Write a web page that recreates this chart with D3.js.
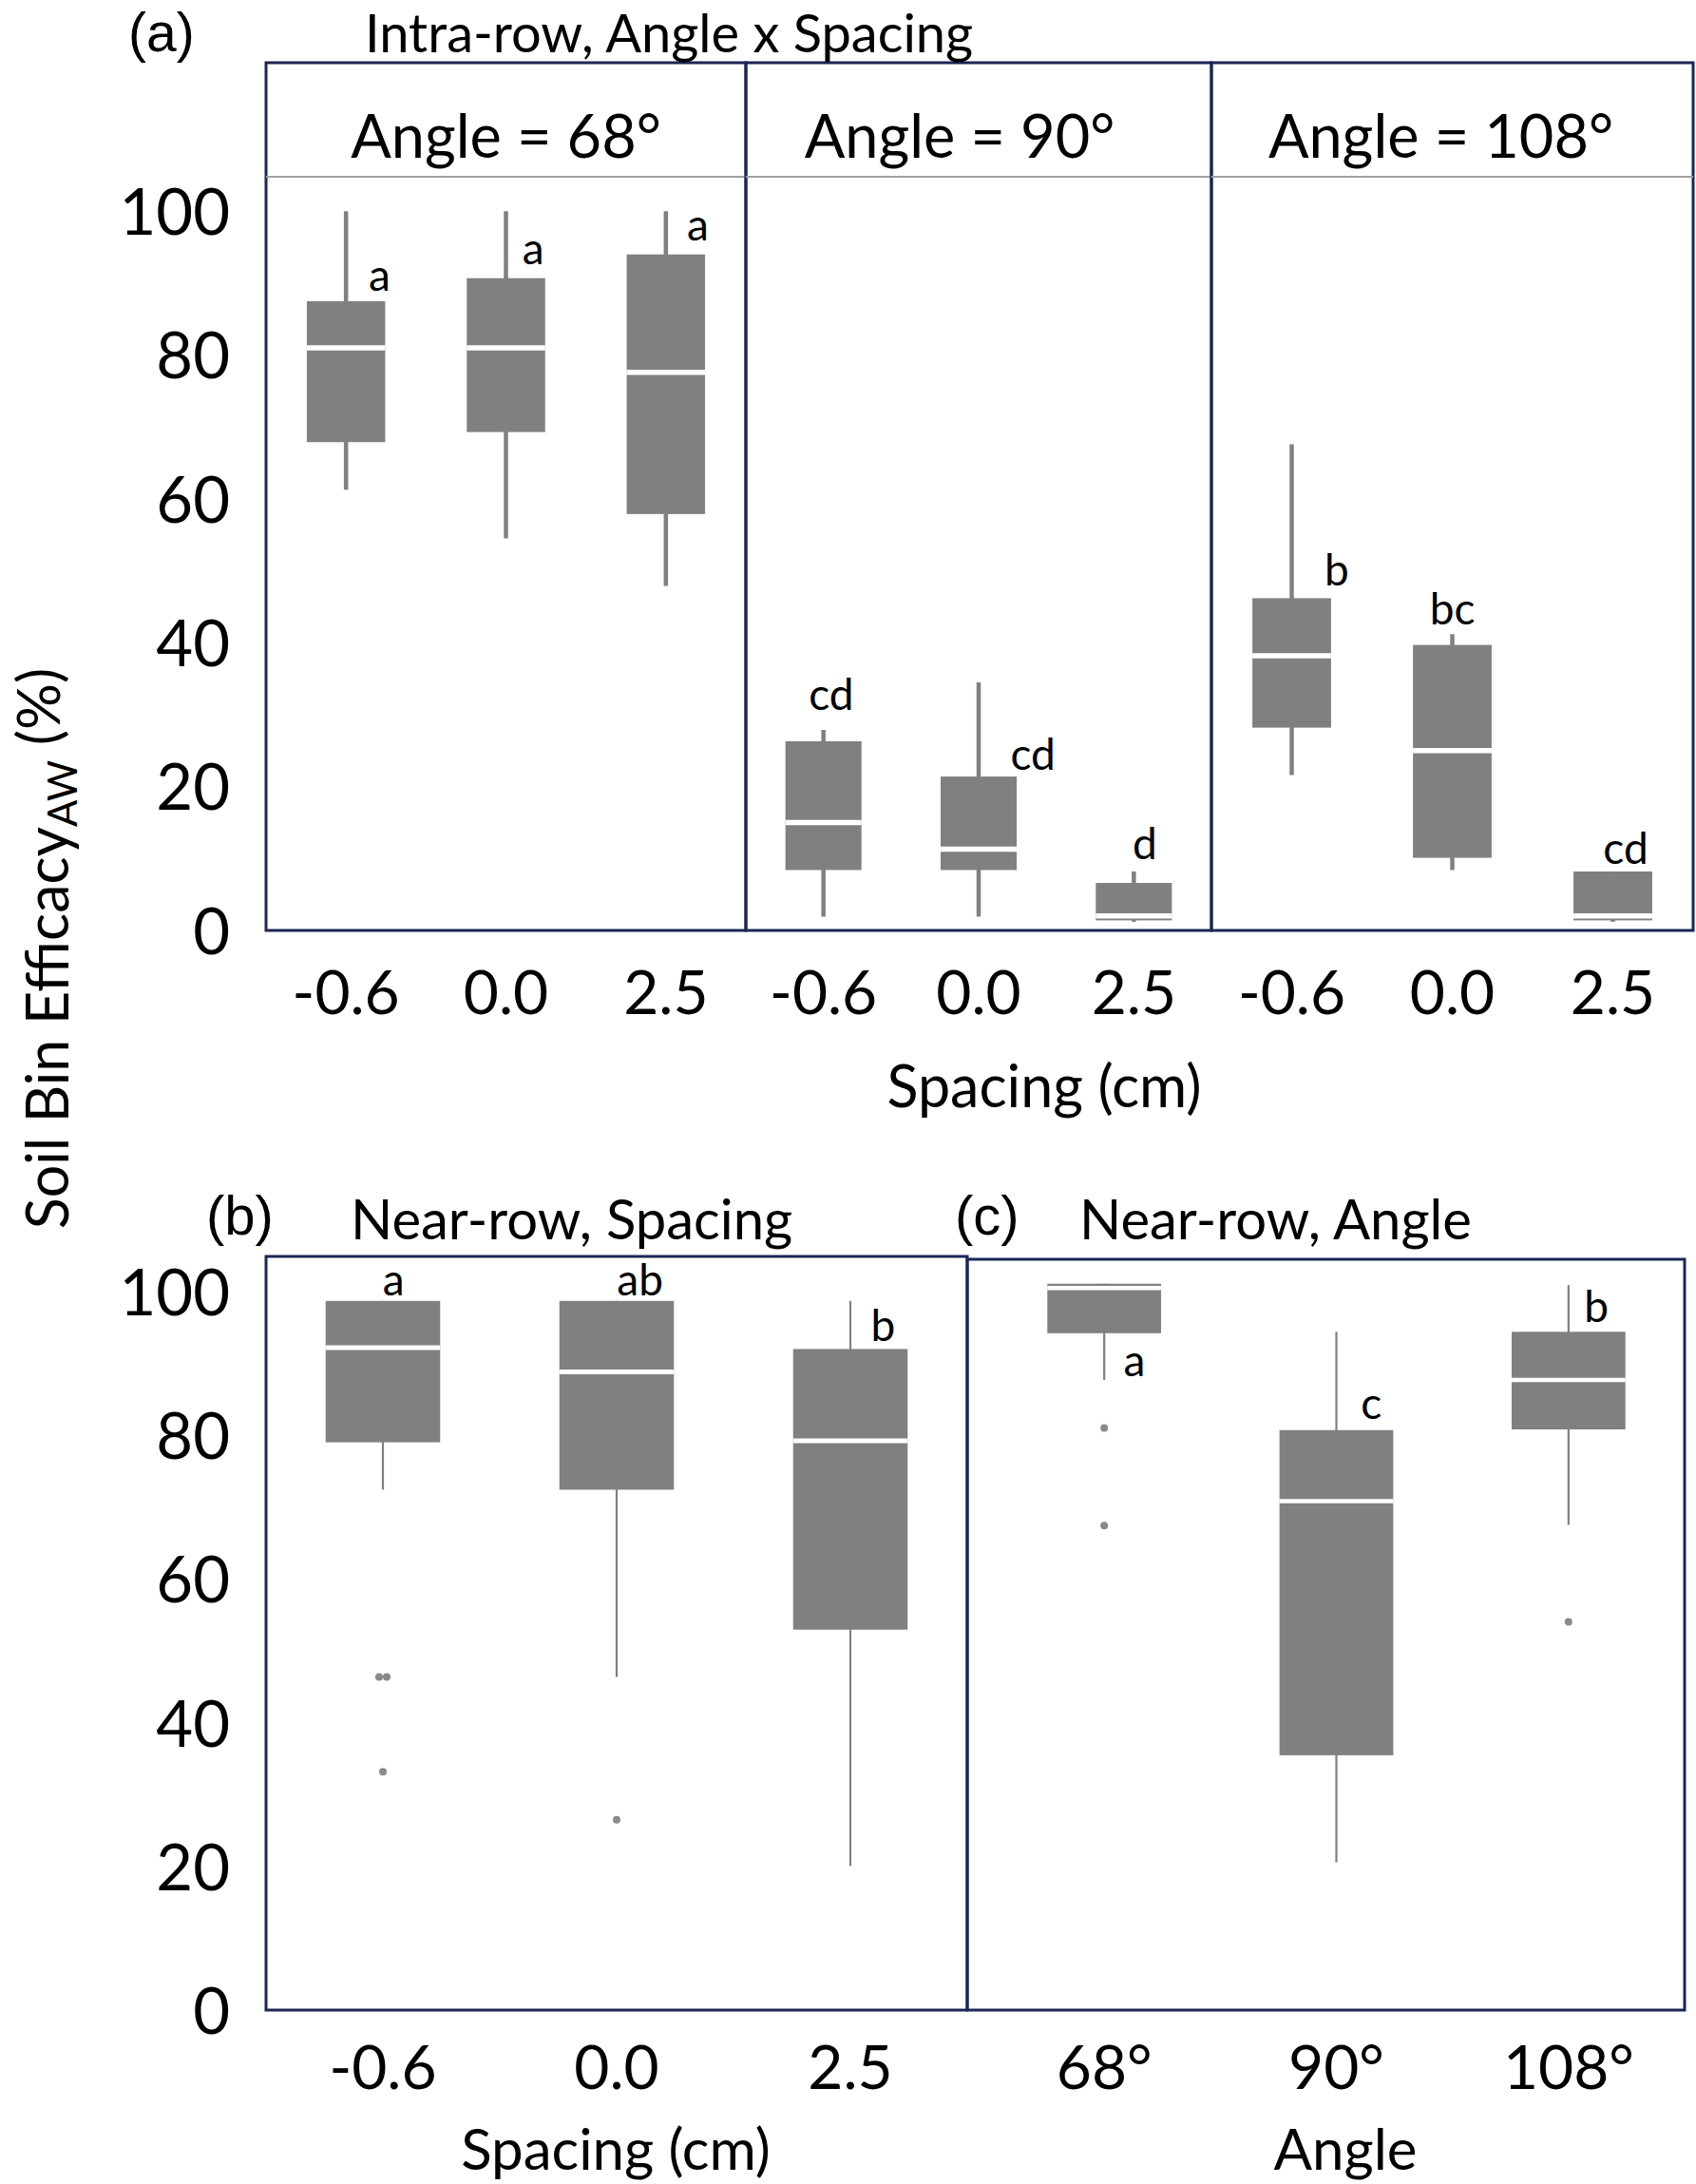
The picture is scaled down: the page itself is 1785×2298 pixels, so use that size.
<!DOCTYPE html>
<html lang="en">
<head>
    <meta charset="UTF-8">
    <title>Soil Bin Efficacy box plots</title>
    <script src="https://d3js.org/d3.v7.min.js"></script>
    <style>
        body { margin: 0; background: #fff; }
        svg { display: block; font-family: Lato, 'Open Sans', sans-serif; }
    </style>
</head>
<body>
<script>
    // Categories
    const spacingCats = ["-0.6", "0.0", "2.5"];
    const angleCats = ["68°", "90°", "108°"];
    const angleStrips = ["Angle = 68°", "Angle = 90°", "Angle = 108°"];
    const yTicks = [0, 20, 40, 60, 80, 100];

    // Box summaries [min, q1, median, q3, max] per spacing
    const intra68 = [[61.3, 67.9, 81.0, 87.5, 100], [54.5, 69.3, 81.0, 90.7, 100], [47.9, 57.9, 77.6, 94.0, 100]];
    const intra90 = [[1.9, 8.4, 15.0, 26.3, 27.9], [1.9, 8.4, 11.3, 21.4, 34.5], [1.2, 1.4, 2.0, 6.6, 8.2]];
    const intra108 = [[21.6, 28.2, 38.2, 46.2, 67.6], [8.4, 10.1, 25.0, 39.7, 41.2], [1.2, 1.4, 2.0, 8.2, 8.2]];
    const intraLetters = [["a", "a", "a"], ["cd", "cd", "d"], ["b", "bc", "cd"]];

    const nearSpacing = [[72.5, 79.1, 92.3, 98.8, 98.8], [46.4, 72.5, 88.9, 98.8, 98.8], [20.1, 53.0, 79.3, 92.1, 98.8]];
    const nearSpacingOut = [[46.4, 46.4, 33.2], [26.5], []];
    const nearSpacingLetters = ["a", "ab", "b"];

    const nearAngle = [[87.8, 94.3, 100.6, 101.2, 101.2], [20.6, 35.5, 70.9, 80.8, 94.5], [67.6, 80.9, 87.8, 94.5, 101.0]];
    const nearAngleOut = [[81.1, 67.5], [], [54.1]];
    const nearAngleLetters = ["a", "c", "b"];

    // where the letters sit: [value of baseline, shift as part of the band]
    const intraLetterPos = [
        [[88.9, 0.21], [92.7, 0.17], [96.0, 0.20]],
        [[30.6, 0.05], [22.3, 0.35], [9.9, 0.07]],
        [[48.0, 0.28], [42.5, 0.0], [9.3, 0.08]]
    ];
    const nearSpacingLetterPos = [[99.6, 0.045], [99.6, 0.10], [93.2, 0.14]];
    const nearAngleLetterPos = [[88.3, 0.13], [82.4, 0.15], [95.8, 0.12]];

    const W = 1785, H = 2298;
    const frameColor = "#1b2655";
    const boxColor = "#808080";
    const tickFont = 64;

    const svg = d3.select("body").append("svg")
        .attr("width", W)
        .attr("height", H);

    // draws one framed panel of boxes
    function drawPanel(opt) {
        const g = svg.append("g");
        const x = d3.scaleBand().domain(opt.cats).range([opt.x0 + (opt.padL || 0), opt.x1]);
        const y = d3.scaleLinear().domain([0, opt.yMax]).range([opt.yBottom, opt.yTop]);
        const bw = x.bandwidth() * 0.49;

        g.append("rect")
            .attr("x", opt.x0).attr("y", opt.frameTop)
            .attr("width", opt.x1 - opt.x0).attr("height", opt.yBottom - opt.frameTop)
            .attr("fill", "none")
            .attr("stroke", frameColor)
            .attr("stroke-width", 3);

        const box = g.selectAll("g.box")
            .data(opt.boxes)
            .enter().append("g")
            .attr("class", "box");

        // whiskers
        box.append("line")
            .attr("x1", (d, i) => x(opt.cats[i]) + x.bandwidth() / 2)
            .attr("x2", (d, i) => x(opt.cats[i]) + x.bandwidth() / 2)
            .attr("y1", d => y(d[4]))
            .attr("y2", d => y(d[0]))
            .attr("stroke", boxColor)
            .attr("stroke-width", opt.whisker);

        box.append("rect")
            .attr("x", (d, i) => x(opt.cats[i]) + x.bandwidth() / 2 - bw / 2)
            .attr("y", d => y(d[3]))
            .attr("width", bw)
            .attr("height", d => y(d[1]) - y(d[3]))
            .attr("fill", boxColor);

        // median
        box.append("line")
            .attr("x1", (d, i) => x(opt.cats[i]) + x.bandwidth() / 2 - bw / 2)
            .attr("x2", (d, i) => x(opt.cats[i]) + x.bandwidth() / 2 + bw / 2)
            .attr("y1", d => y(d[2]))
            .attr("y2", d => y(d[2]))
            .attr("stroke", "#fff")
            .attr("stroke-width", opt.median);

        // outliers
        if (opt.outliers) {
            opt.outliers.forEach((vals, i) => {
                vals.forEach((v, j) => {
                    const same = vals.filter(u => u === v).length;
                    const k = vals.slice(0, j).filter(u => u === v).length;
                    const dx = same > 1 ? (k - (same - 1) / 2) * 8 : 0;
                    g.append("circle")
                        .attr("cx", x(opt.cats[i]) + x.bandwidth() / 2 + dx)
                        .attr("cy", y(v))
                        .attr("r", 4)
                        .attr("fill", "#8a8a8a");
                });
            });
        }

        // letters
        g.selectAll("text.letter")
            .data(opt.letters)
            .enter().append("text")
            .attr("class", "letter")
            .attr("x", (d, i) => x(opt.cats[i]) + x.bandwidth() / 2 + opt.letterPos[i][1] * x.bandwidth())
            .attr("y", (d, i) => y(opt.letterPos[i][0]))
            .attr("text-anchor", "middle")
            .style("font-size", "46px")
            .text(d => d);

        // x axis
        const xa = g.append("g")
            .attr("transform", `translate(0,${opt.yBottom})`)
            .call(d3.axisBottom(x).tickSize(0));
        xa.select(".domain").remove();
        xa.selectAll("text")
            .attr("y", opt.tickBase - opt.yBottom)
            .attr("dy", 0)
            .style("font-family", "Lato, sans-serif")
            .style("font-size", tickFont + "px")
            .attr("fill", "#000");

        return { x, y };
    }

    function drawYAxis(y, x0) {
        const ya = svg.append("g")
            .attr("transform", `translate(${x0},0)`)
            .call(d3.axisLeft(y).tickValues(yTicks).tickSize(0).tickPadding(38));
        ya.select(".domain").remove();
        ya.selectAll("text")
            .attr("dy", "0.36em")
            .style("font-family", "Lato, sans-serif")
            .style("font-size", "67px")
            .attr("fill", "#000");
    }

    // ---- panel (a): three angle strips ----
    const intraBoxes = [intra68, intra90, intra108];
    const stripX = [280, 785, 1275, 1782];
    const stripShift = [0, -20, -12];
    let yA;
    intraBoxes.forEach((boxes, k) => {
        const s = drawPanel({
            x0: stripX[k], x1: stripX[k + 1],
            frameTop: 66, yTop: 186, yBottom: 979, yMax: 104.8,
            cats: spacingCats, boxes: boxes,
            letters: intraLetters[k], letterPos: intraLetterPos[k],
            whisker: 4.5, median: 5.5, tickBase: 1067
        });
        yA = s.y;
        svg.append("line")
            .attr("x1", stripX[k]).attr("x2", stripX[k + 1])
            .attr("y1", 186).attr("y2", 186)
            .attr("stroke", "#a0a0a0")
            .attr("stroke-width", 2);
        svg.append("text")
            .attr("x", (stripX[k] + stripX[k + 1]) / 2 + stripShift[k])
            .attr("y", 166)
            .attr("text-anchor", "middle")
            .style("font-size", "63px")
            .text(angleStrips[k]);
    });
    drawYAxis(yA, 280);

    svg.append("text").attr("x", 135).attr("y", 54)
        .style("font-family", "'Liberation Sans', Arial, sans-serif")
        .style("font-size", "57px").text("(a)");
    svg.append("text").attr("x", 384).attr("y", 55)
        .style("font-size", "56px").text("Intra-row, Angle x Spacing");
    svg.append("text").attr("x", 1099).attr("y", 1165)
        .attr("text-anchor", "middle")
        .style("font-size", "61px").text("Spacing (cm)");

    // ---- panel (b) ----
    const sb = drawPanel({
        x0: 280, x1: 1018,
        frameTop: 1322, yTop: 1322, yBottom: 2115, yMax: 105,
        cats: spacingCats, boxes: nearSpacing, outliers: nearSpacingOut,
        letters: nearSpacingLetters, letterPos: nearSpacingLetterPos,
        whisker: 2.2, median: 5, tickBase: 2198
    });
    drawYAxis(sb.y, 280);

    // ---- panel (c) ----
    drawPanel({
        x0: 1018, x1: 1773, padL: 22,
        frameTop: 1325, yTop: 1322, yBottom: 2115, yMax: 105,
        cats: angleCats, boxes: nearAngle, outliers: nearAngleOut,
        letters: nearAngleLetters, letterPos: nearAngleLetterPos,
        whisker: 2.2, median: 4.5, tickBase: 2198
    });

    svg.append("text").attr("x", 217).attr("y", 1299)
        .style("font-family", "'Liberation Sans', Arial, sans-serif")
        .style("font-size", "58px").text("(b)");
    svg.append("text").attr("x", 369).attr("y", 1304)
        .style("font-size", "58px").text("Near-row, Spacing");
    svg.append("text").attr("x", 1005).attr("y", 1299)
        .style("font-family", "'Liberation Sans', Arial, sans-serif")
        .style("font-size", "58px").text("(c)");
    svg.append("text").attr("x", 1136).attr("y", 1304)
        .style("font-size", "58px").text("Near-row, Angle");

    svg.append("text").attr("x", 648).attr("y", 2283)
        .attr("text-anchor", "middle")
        .style("font-size", "60px").text("Spacing (cm)");
    svg.append("text").attr("x", 1416).attr("y", 2283)
        .attr("text-anchor", "middle")
        .style("font-size", "60px").text("Angle");

    // y axis title
    const yt = svg.append("text")
        .attr("transform", "translate(72,998) rotate(-90)")
        .attr("text-anchor", "middle")
        .style("font-size", "61px");
    yt.append("tspan").text("Soil Bin Efficacy");
    yt.append("tspan").attr("dy", "0.22em").style("font-size", "42px").text("AW");
    yt.append("tspan").attr("dy", "-0.3em").text(" (%)");
</script>
</body>
</html>
